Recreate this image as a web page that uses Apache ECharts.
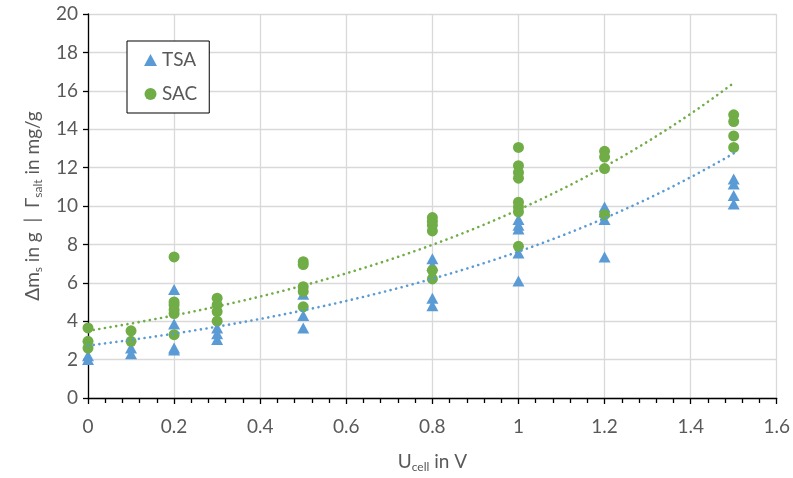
<!DOCTYPE html>
<html>
<head>
<meta charset="utf-8">
<script src="https://cdn.jsdelivr.net/npm/echarts@6/dist/echarts.min.js"></script>
<style>
  html, body { margin: 0; padding: 0; background: #fff; }
  #chart { width: 793px; height: 478px; }
</style>
</head>
<body>
<div id="chart"></div>
<script>
// Measured mass / salt uptake at each cell voltage (repeated runs per voltage)
const tsaX = [0, 0, 0.1, 0.1, 0.2, 0.2, 0.2, 0.2, 0.3, 0.3, 0.3, 0.5, 0.5, 0.5,
              0.8, 0.8, 0.8, 0.8, 1, 1, 1, 1, 1, 1.2, 1.2, 1.2, 1.2, 1.5, 1.5, 1.5, 1.5];
const tsaY = [2.0, 2.2, 2.3, 2.6, 5.65, 3.85, 2.6, 2.5, 3.65, 3.35, 3.05, 5.4, 4.3, 3.65,
              7.25, 6.9, 5.2, 4.8, 9.3, 9.0, 8.8, 7.55, 6.1, 9.95, 9.7, 9.3, 7.35, 11.4, 11.15, 10.55, 10.1];

const sacX = [0, 0, 0, 0.1, 0.1, 0.2, 0.2, 0.2, 0.2, 0.2, 0.2, 0.3, 0.3, 0.3, 0.3,
              0.5, 0.5, 0.5, 0.5, 0.5, 0.8, 0.8, 0.8, 0.8, 0.8, 0.8,
              1, 1, 1, 1, 1, 1, 1, 1, 1.2, 1.2, 1.2, 1.2, 1.5, 1.5, 1.5, 1.5];
const sacY = [3.65, 2.95, 2.6, 3.5, 2.95, 7.35, 5.0, 4.85, 4.6, 4.4, 3.3, 5.2, 4.85, 4.5, 4.0,
              7.1, 6.95, 5.8, 5.55, 4.75, 9.4, 9.2, 9.0, 8.7, 6.65, 6.2,
              13.05, 12.1, 11.75, 11.45, 10.2, 9.95, 9.7, 7.9, 12.85, 12.55, 11.95, 9.55,
              14.75, 14.4, 13.65, 13.05];

// Exponential trendlines y = a·e^(b·x), drawn over the measured voltage range
const tsaTrend = { a: 2.73, b: 1.027, from: 0, to: 1.5 };
const sacTrend = { a: 3.50, b: 1.030, from: 0, to: 1.5 };

const xTicks = { min: 0, max: 1.6, step: 0.2 };
const yTicks = { min: 0, max: 20, step: 2 };

const BLUE = '#5B9BD5';
const GREEN = '#70AD47';
const TEXT = '#595959';
const FONT = 'Lato, "Open Sans", sans-serif';

function trendPoints(t) {
  const pts = [];
  const steps = 60;
  for (let i = 0; i <= steps; i++) {
    const x = t.from + (t.to - t.from) * i / steps;
    pts.push([x, t.a * Math.exp(t.b * x)]);
  }
  return pts;
}
const zip = (xs, ys) => xs.map((x, i) => [x, ys[i]]);

const chart = echarts.init(document.getElementById('chart'), null, { renderer: 'canvas' });

const dotted = (color) => ({
  color, width: 2.6, type: [0.1, 5.6], cap: 'round'
});
const nameRich = {
  a: { fontSize: 19, color: TEXT, fontFamily: FONT, lineHeight: 22 },
  s: { fontSize: 12, color: TEXT, fontFamily: FONT, lineHeight: 12, verticalAlign: 'bottom' }
};

chart.setOption({
  backgroundColor: '#fff',
  animation: false,
  textStyle: { fontFamily: FONT },
  grid: { left: 88, right: 14, top: 14, bottom: 80, containLabel: false },
  legend: {
    data: ['TSA', 'SAC'],
    orient: 'vertical',
    left: 127, top: 41,
    padding: [8, 12, 8, 17],
    itemGap: 12,
    itemWidth: 13, itemHeight: 12,
    borderColor: '#000', borderWidth: 1, backgroundColor: '#fff',
    textStyle: { fontSize: 19, color: TEXT, fontFamily: FONT, lineHeight: 22 }
  },
  xAxis: {
    type: 'value',
    min: xTicks.min, max: xTicks.max, interval: xTicks.step,
    name: '{a|U}{s|cell}{a| in V}',
    nameLocation: 'middle', nameGap: 53,
    nameTextStyle: { color: TEXT, rich: nameRich },
    axisLine: { lineStyle: { color: '#000', width: 1.3 } },
    axisTick: { show: true, length: 6, lineStyle: { color: '#000', width: 1.3 } },
    minorTick: { show: true, splitNumber: 5, length: 5, lineStyle: { color: '#000', width: 1.3 } },
    axisLabel: { color: TEXT, fontSize: 19, margin: 19, fontFamily: FONT,
                 formatter: v => String(Math.round(v * 10) / 10) },
    splitLine: { show: true, lineStyle: { color: '#D9D9D9', width: 1.3 } }
  },
  yAxis: {
    type: 'value',
    min: yTicks.min, max: yTicks.max, interval: yTicks.step,
    name: '{a|Δm}{s|s}{a| in g  |  Γ}{s|salt}{a| in mg/g}',
    nameLocation: 'middle', nameGap: 44, nameRotate: 90,
    nameTextStyle: { color: TEXT, rich: nameRich },
    axisLine: { show: true, lineStyle: { color: '#000', width: 1.3 } },
    axisTick: { show: true, length: 5, lineStyle: { color: '#000', width: 1.3 } },
    axisLabel: { color: TEXT, fontSize: 19, margin: 10, fontFamily: FONT },
    splitLine: { show: true, lineStyle: { color: '#D9D9D9', width: 1.3 } }
  },
  series: [
    {
      name: 'TSA', type: 'scatter', symbol: 'triangle', symbolSize: [12, 11],
      itemStyle: { color: BLUE, opacity: 1 }, data: zip(tsaX, tsaY), z: 2
    },
    {
      name: 'SAC', type: 'scatter', symbol: 'circle', symbolSize: 11,
      itemStyle: { color: GREEN, opacity: 1 }, data: zip(sacX, sacY), z: 3
    },
    {
      name: 'TSA trend', type: 'line', data: trendPoints(tsaTrend),
      showSymbol: false, symbol: 'none', silent: true,
      lineStyle: dotted(BLUE), z: 4
    },
    {
      name: 'SAC trend', type: 'line', data: trendPoints(sacTrend),
      showSymbol: false, symbol: 'none', silent: true,
      lineStyle: dotted(GREEN), z: 4
    }
  ]
});
</script>
</body>
</html>
